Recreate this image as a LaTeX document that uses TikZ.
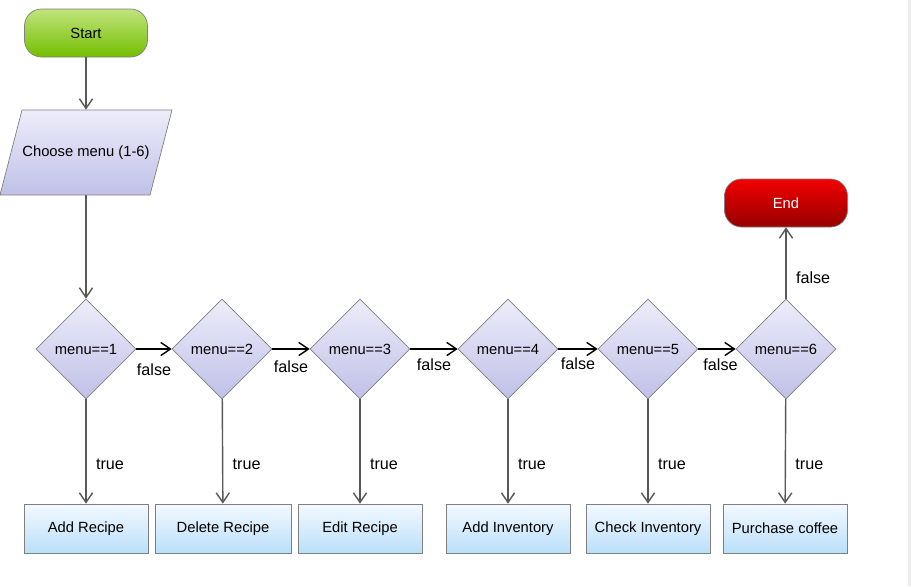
\documentclass[tikz,border=0pt]{standalone}
\usepackage{fontspec}
\setmainfont{Liberation Sans}
\usepackage{tikz}
\usetikzlibrary{shapes.geometric, arrows.meta}
\definecolor{EdgeGray} {RGB}{128,128,128}
\definecolor{LineGray} {RGB}{88, 88, 88}
\definecolor{StripGray}{RGB}{236,236,236}
\definecolor{GreenTop} {RGB}{192,228,124}
\definecolor{GreenBot} {RGB}{116,190,0}
\definecolor{RedTop}   {RGB}{242,0,  0}
\definecolor{RedBot}   {RGB}{150,0,  0}
\definecolor{LilacTop} {RGB}{237,237,250}
\definecolor{LilacBot} {RGB}{192,192,232}
\definecolor{SkyTop}   {RGB}{243,249,255}
\definecolor{SkyBot}   {RGB}{186,223,250}

\begin{document}
\begin{tikzpicture}[x=0.02cm, y=-0.02cm,
  >={Straight Barb[length=5.5pt, width=7.5pt]},
  nfont/.style  = {font=\fontsize{8.4}{10}\selectfont},
  term/.style   = {draw=EdgeGray, rounded corners=0.34cm,
                   minimum width=2.46cm, minimum height=0.96cm, nfont},
  io/.style     = {minimum width=3cm, minimum height=1.7cm,
                   inner sep=0pt, nfont},
  decide/.style = {diamond, draw=EdgeGray, top color=LilacTop,
                   bottom color=LilacBot, minimum width=2cm,
                   minimum height=2cm, inner sep=0pt, nfont},
  act/.style    = {draw=EdgeGray, top color=SkyTop, bottom color=SkyBot,
                   minimum width=2.48cm, minimum height=0.98cm, nfont},
  vflow/.style  = {->, draw=LineGray, line width=0.8pt},
  hflow/.style  = {->, draw=black, line width=0.8pt},
  elbl/.style   = {font=\fontsize{9.2}{11}\selectfont, text=black}
]
  \useasboundingbox[fill=white] (0,0) rectangle (911,586);
  \fill[StripGray] (908,0) rectangle (911,586);

  %% start / input
  \node[term, top color=GreenTop, bottom color=GreenBot]
    (start) at (86,33) {Start};
  \shade[draw=EdgeGray, top color=LilacTop, bottom color=LilacBot]
    (22,110) -- (172,110) -- (150,195) -- (0,195) -- cycle;
  \node[io] (choose) at (86,152.5) {Choose menu (1-6)};

  %% menu tests
  \node[decide] (d1) at (86,349)  {menu==1};
  \node[decide] (d2) at (222,349) {menu==2};
  \node[decide] (d3) at (360,349) {menu==3};
  \node[decide] (d4) at (508,349) {menu==4};
  \node[decide] (d5) at (648,349) {menu==5};
  \node[decide] (d6) at (786,349) {menu==6};

  %% end
  \node[term, top color=RedTop, bottom color=RedBot, text=white]
    (stop) at (786,203) {End};

  %% actions
  \node[act] (b1) at (86,528.5)  {Add Recipe};
  \node[act, minimum width=2.72cm] (b2) at (223,528.5) {Delete Recipe};
  \node[act] (b3) at (360,528.5) {Edit Recipe};
  \node[act] (b4) at (508,528.5) {Add Inventory};
  \node[act] (b5) at (648,528.5) {Check Inventory};
  \node[act] (b6) at (785,528.5) {Purchase coffee};

  %% flow
  \draw[vflow] (start) -- (choose);
  \draw[vflow] (choose) -- (d1);

  \draw[hflow] (d1) -- node[below, elbl, yshift=-4.8pt]{false} (d2);
  \draw[hflow] (d2) -- node[below, elbl, yshift=-3.2pt]{false} (d3);
  \draw[hflow] (d3) -- node[below, elbl, yshift=-1.7pt]{false} (d4);
  \draw[hflow] (d4) -- node[below, elbl, yshift=-1.1pt]{false} (d5);
  \draw[hflow] (d5) -- node[below, elbl, yshift=-1.7pt, xshift=2pt]{false} (d6);
  \draw[vflow] (d6) -- node[right, elbl, pos=0.3, xshift=2pt]{false} (stop);

  \draw[vflow] (d1) -- node[right, elbl, pos=0.62, xshift=2pt]{true} (b1);
  \draw[vflow] (d2) -- node[right, elbl, pos=0.62, xshift=2pt]{true} (b2);
  \draw[vflow] (d3) -- node[right, elbl, pos=0.62, xshift=2pt]{true} (b3);
  \draw[vflow] (d4) -- node[right, elbl, pos=0.62, xshift=2pt]{true} (b4);
  \draw[vflow] (d5) -- node[right, elbl, pos=0.62, xshift=2pt]{true} (b5);
  \draw[vflow] (d6) -- node[right, elbl, pos=0.62, xshift=2pt]{true} (b6);
\end{tikzpicture}
\end{document}
